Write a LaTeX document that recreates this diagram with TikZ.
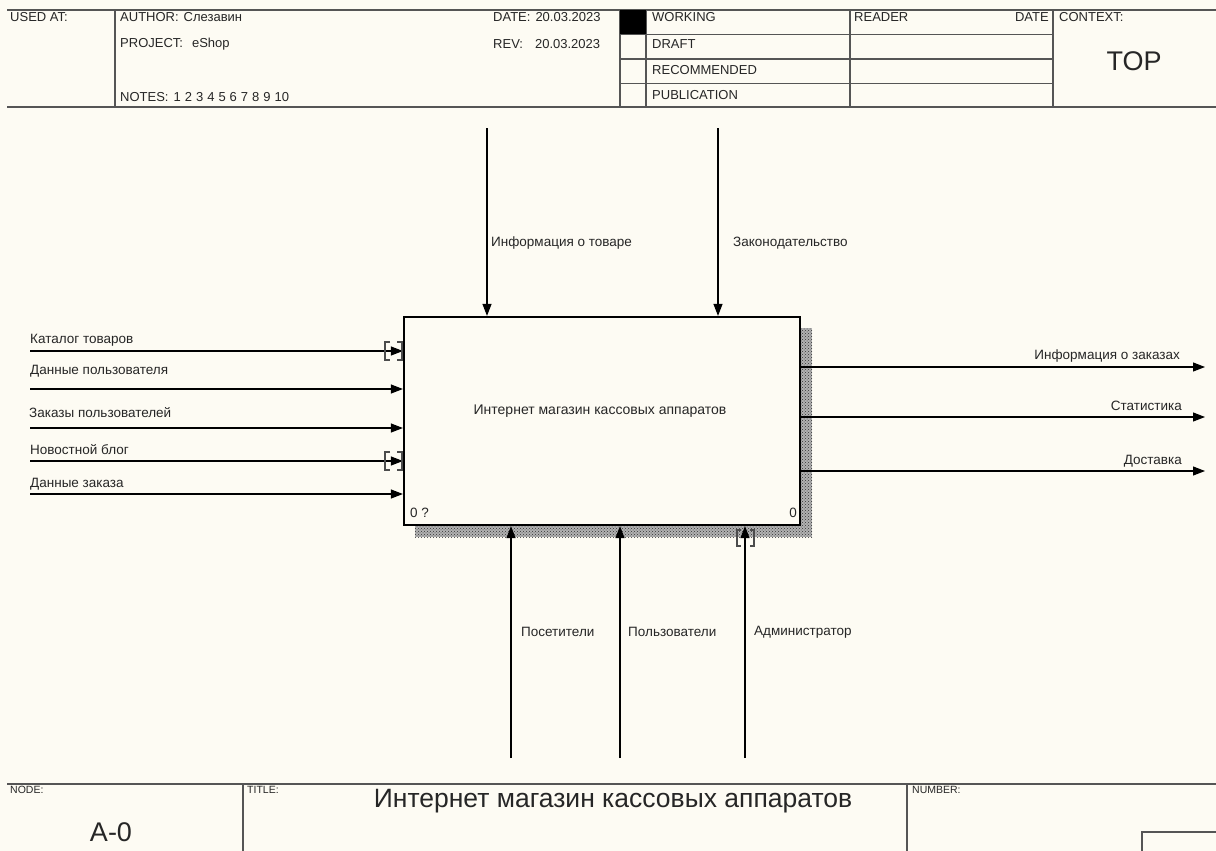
\documentclass[tikz,border=0pt]{standalone}
\usepackage{fontspec}
\setmainfont{Liberation Sans}
\usetikzlibrary{arrows.meta,patterns}
\definecolor{bgcream}{RGB}{253,251,243}
\definecolor{framegray}{RGB}{85,85,85}
\begin{document}
\begin{tikzpicture}[x=1pt, y=-1pt,
  frame/.style={draw=framegray, line width=1.6pt},
  func/.style={rectangle, draw, line width=2.2pt, fill=bgcream, minimum width=396pt, minimum height=208pt, inner sep=0pt},
  shade/.style={fill=black!30, postaction={pattern=crosshatch dots, pattern color=black!80}},
  arrow/.style={-{Triangle[length=12pt,width=9pt]}, line width=1.1pt},
  tunnel/.style={draw=black!70, line width=1.2pt},
  lbl/.style={font=\fontsize{13.5}{15}\selectfont, inner sep=0pt, text=black!85},
  hdr/.style={font=\fontsize{13}{15}\selectfont, inner sep=0pt, anchor=west, text=black!85},
  tiny/.style={font=\fontsize{10.5}{12}\selectfont, inner sep=0pt, anchor=west, text=black!85}
]
  \useasboundingbox (0,0) rectangle (1216,851);
  \fill[bgcream] (0,0) rectangle (1216,851);

  % header
  \draw[frame] (7,10) -- (1216,10);
  \draw[frame] (7,107) -- (1216,107);
  \draw[frame] (115,10) -- (115,107);
  \draw[frame] (620,10) -- (620,107);
  \draw[frame] (646,10) -- (646,107);
  \draw[frame] (850,10) -- (850,107);
  \draw[frame] (1053,10) -- (1053,107);
  \draw[frame] (620,34.5) -- (1053,34.5);
  \draw[frame] (620,59) -- (1053,59);
  \draw[frame] (620,83.5) -- (1053,83.5);
  \fill[black] (620,10) rectangle (646,34.5);

  \node[hdr] (used) at (10,17) {USED AT:};
  \node[hdr] (author) at (120,17) {AUTHOR:\hspace{5pt}Слезавин};
  \node[hdr] (project) at (120,44) {PROJECT:\hspace{9pt}eShop};
  \node[hdr] (notes) at (120,97) {NOTES:\hspace{5pt}1\hspace{4pt}2\hspace{4pt}3\hspace{4pt}4\hspace{4pt}5\hspace{4pt}6\hspace{4pt}7\hspace{4pt}8\hspace{4pt}9\hspace{4pt}10};
  \node[hdr] (date) at (493,17) {DATE:\hspace{5pt}20.03.2023};
  \node[hdr] (rev) at (493,44) {REV:\hspace{12pt}20.03.2023};
  \node[hdr] (working) at (652,17) {WORKING};
  \node[hdr] (draft) at (652,44) {DRAFT};
  \node[hdr] (recom) at (652,70) {RECOMMENDED};
  \node[hdr] (public) at (652,95) {PUBLICATION};
  \node[hdr] (reader) at (854,17) {READER};
  \node[hdr, anchor=east] (rdate) at (1049,17) {DATE};
  \node[hdr] (context) at (1059,17) {CONTEXT:};
  \node[lbl, font=\fontsize{27}{29}\selectfont] (top) at (1134,61) {TOP};

  % footer
  \draw[frame] (7,784) -- (1216,784);
  \draw[frame] (243,784) -- (243,851);
  \draw[frame] (907,784) -- (907,851);
  \draw[frame] (1216,832) -- (1142,832) -- (1142,851);
  \node[tiny] (nodehd) at (10,790) {NODE:};
  \node[tiny] (titlehd) at (247,790) {TITLE:};
  \node[tiny] (numhd) at (912,790) {NUMBER:};
  \node[lbl, font=\fontsize{27}{29}\selectfont] (nodeid) at (111,832) {A-0};
  \node[lbl, font=\fontsize{26.5}{29}\selectfont] (title) at (613,801) {Интернет магазин кассовых аппаратов};

  % activity box
  \fill[shade] (415,328) rectangle (812,537);
  \node[func] (box) at (602,421) {};
  \node[lbl, font=\fontsize{14}{16}\selectfont] (boxname) at (600,411) {Интернет магазин кассовых аппаратов};
  \node[lbl, anchor=west] (boxnum) at (410,513) {0 ?};
  \node[lbl, anchor=east] (boxnode) at (797,513) {0};

  % controls
  \coordinate (c1) at (487,128);
  \coordinate (c2) at (718,128);
  \draw[arrow] (c1) -- (c1 |- box.north);
  \draw[arrow] (c2) -- (c2 |- box.north);
  \node[lbl, anchor=west] (c1l) at (491,243) {Информация о товаре};
  \node[lbl, anchor=west] (c2l) at (733,243) {Законодательство};

  % inputs
  \coordinate (i1) at (30,351);
  \coordinate (i2) at (30,389);
  \coordinate (i3) at (30,428);
  \coordinate (i4) at (30,461);
  \coordinate (i5) at (30,494);
  \draw[arrow] (i1) -- (i1 -| box.west);
  \draw[arrow] (i2) -- (i2 -| box.west);
  \draw[arrow] (i3) -- (i3 -| box.west);
  \draw[arrow] (i4) -- (i4 -| box.west);
  \draw[arrow] (i5) -- (i5 -| box.west);
  \node[lbl, anchor=west] (i1l) at (30,340) {Каталог товаров};
  \node[lbl, anchor=west] (i2l) at (30,371) {Данные пользователя};
  \node[lbl, anchor=west] (i3l) at (29,413) {Заказы пользователей};
  \node[lbl, anchor=west] (i4l) at (30,450) {Новостной блог};
  \node[lbl, anchor=west] (i5l) at (30,484) {Данные заказа};
  \draw[tunnel] (390,342) -- (385,342) -- (385,360) -- (390,360);
  \draw[tunnel] (397,342) -- (402,342) -- (402,360) -- (397,360);
  \draw[tunnel] (390,452) -- (385,452) -- (385,470) -- (390,470);
  \draw[tunnel] (397,452) -- (402,452) -- (402,470) -- (397,470);

  % outputs
  \coordinate (o1) at (1205,367);
  \coordinate (o2) at (1205,417);
  \coordinate (o3) at (1205,471);
  \draw[arrow] (o1 -| box.east) -- (o1);
  \draw[arrow] (o2 -| box.east) -- (o2);
  \draw[arrow] (o3 -| box.east) -- (o3);
  \node[lbl, anchor=east] (o1l) at (1180,356) {Информация о заказах};
  \node[lbl, anchor=east] (o2l) at (1182,406) {Статистика};
  \node[lbl, anchor=east] (o3l) at (1182,461) {Доставка};

  % mechanisms
  \coordinate (m1) at (511,758);
  \coordinate (m2) at (620,758);
  \coordinate (m3) at (745,758);
  \draw[arrow] (m1) -- (m1 |- box.south);
  \draw[arrow] (m2) -- (m2 |- box.south);
  \draw[arrow] (m3) -- (m3 |- box.south);
  \node[lbl, anchor=west] (m1l) at (521,632) {Посетители};
  \node[lbl, anchor=west] (m2l) at (628,632) {Пользователи};
  \node[lbl, anchor=west] (m3l) at (754,632) {Администратор};
  \draw[tunnel] (741,530) -- (737,530) -- (737,546) -- (741,546);
  \draw[tunnel] (750,530) -- (754,530) -- (754,546) -- (750,546);
\end{tikzpicture}
\end{document}
